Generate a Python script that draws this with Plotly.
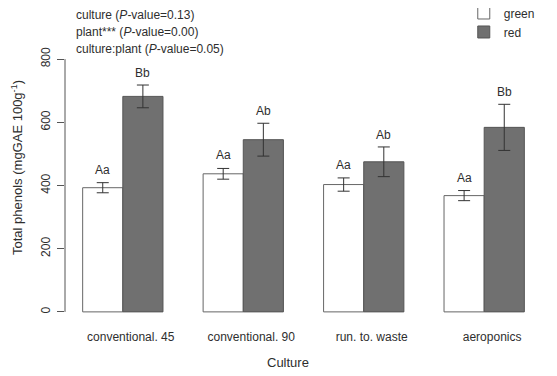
import numpy as np
import plotly.graph_objects as go

categories = ["conventional. 45", "conventional. 90", "run. to. waste", "aeroponics"]
green_values = [393, 437, 403, 368]
green_errors = [16, 17, 21, 16]
red_values = [682, 545, 475, 584]
red_errors = [36, 52, 47, 73]
green_letters = ["Aa", "Aa", "Aa", "Aa"]
red_letters = ["Bb", "Ab", "Ab", "Bb"]
y_ticks = [0, 200, 400, 600, 800]
stats_lines = [
    "culture (<i>P</i>-value=0.13)",
    "plant*** (<i>P</i>-value=0.00)",
    "culture:plant (<i>P</i>-value=0.05)",
]

FONT = "Liberation Sans, Arial, sans-serif"
TXT = "#2e2e2e"
AX = "#555555"

idx = np.arange(len(categories))

fig = go.Figure()
fig.add_trace(go.Bar(
    x=idx, y=green_values, name="green",
    marker=dict(color="white", line=dict(color="#666666", width=1)),
    error_y=dict(type="data", array=green_errors, color="#333333", thickness=1, width=6),
))
fig.add_trace(go.Bar(
    x=idx, y=red_values, name="red",
    marker=dict(color="#707070", line=dict(color="#555555", width=1)),
    error_y=dict(type="data", array=red_errors, color="#333333", thickness=1, width=6),
))

# letters above error bars
bar_off = 1 / 6
for i in idx:
    fig.add_annotation(x=i - bar_off, y=green_values[i] + green_errors[i], text=green_letters[i],
                       showarrow=False, yanchor="middle", yshift=13,
                       font=dict(family=FONT, size=12, color=TXT))
    fig.add_annotation(x=i + bar_off, y=red_values[i] + red_errors[i], text=red_letters[i],
                       showarrow=False, yanchor="middle", yshift=12,
                       font=dict(family=FONT, size=12, color=TXT))

# page body has an 8px margin: window pixel coordinates below are mapped to paper
plot_left, plot_right = 65, 542
plot_top, plot_bot = 49, 322
pw = plot_right - plot_left
ph = plot_bot - plot_top

for k, line in enumerate(stats_lines):
    py = 15 + 17 * k
    fig.add_annotation(xref="paper", yref="paper", x=(74 - plot_left) / pw, y=(plot_bot - py) / ph,
                       xanchor="left", yanchor="middle", text=line, showarrow=False,
                       font=dict(family=FONT, size=12, color=TXT))

# axis titles
fig.add_annotation(xref="paper", yref="paper", x=(17 - plot_left) / pw, y=(plot_bot - 168) / ph,
                   text="Total phenols (mgGAE 100g<sup>-1</sup>)", textangle=-90, showarrow=False,
                   xanchor="center", yanchor="middle", font=dict(family=FONT, size=13, color=TXT))
fig.add_annotation(xref="paper", yref="paper", x=(288 - plot_left) / pw, y=(plot_bot - 362) / ph,
                   text="Culture", showarrow=False, xanchor="center", yanchor="middle",
                   font=dict(family=FONT, size=13, color=TXT))

# R-style y axis line from 0 to 800
fig.add_shape(type="line", xref="paper", yref="y", x0=0, x1=0, y0=y_ticks[0], y1=y_ticks[-1],
              line=dict(color=AX, width=1))

BODY = 8
fig.update_layout(
    width=557 - BODY, height=376 - BODY,
    margin=dict(l=plot_left - BODY, r=557 - plot_right, t=plot_top - BODY, b=376 - plot_bot,
                autoexpand=False),
    paper_bgcolor="white", plot_bgcolor="white",
    barmode="group", bargap=1 / 3, bargroupgap=0,
    font=dict(family=FONT, size=12, color=TXT),
    legend=dict(x=0.836, y=1.185, xanchor="left", yanchor="top",
                font=dict(family=FONT, size=12, color=TXT), tracegroupgap=0,
                bgcolor="rgba(0,0,0,0)"),
    xaxis=dict(range=[-0.48, 3.48], tickvals=idx + 0.066, ticktext=categories,
               showgrid=False, zeroline=False, showline=False, ticks="", automargin=False,
               ticklabelstandoff=6,
               tickfont=dict(family=FONT, size=12, color=TXT)),
    yaxis=dict(range=[-32, 832], tickvals=y_ticks, ticktext=[str(t) for t in y_ticks],
               showgrid=False, zeroline=False, showline=False, ticks="outside", automargin=False,
               ticklen=7, tickcolor=AX, tickwidth=1, tickangle=-90, ticklabelstandoff=2,
               tickfont=dict(family=FONT, size=12, color=TXT)),
)

fig.write_html("out.html")
